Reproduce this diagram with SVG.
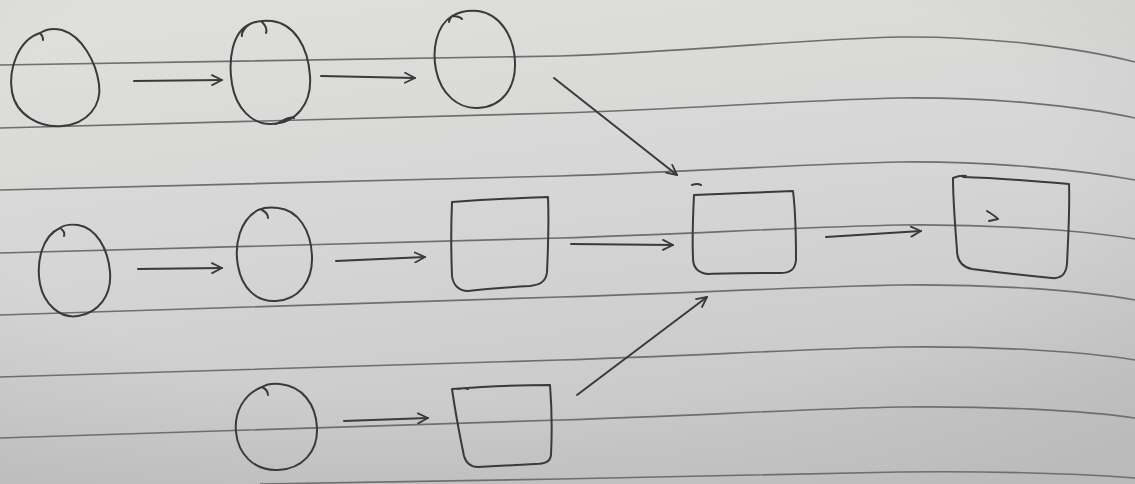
<svg xmlns="http://www.w3.org/2000/svg" width="1135" height="484" viewBox="0 0 1135 484">
  <defs>
    <linearGradient id="paper" x1="0" y1="0" x2="0.3" y2="1">
      <stop offset="0" stop-color="#e0e0de"/>
      <stop offset="0.55" stop-color="#d6d5d5"/>
      <stop offset="1" stop-color="#c9c8c8"/>
    </linearGradient>
    <radialGradient id="shade" cx="0.45" cy="0.35" r="0.8">
      <stop offset="0.6" stop-color="#000" stop-opacity="0"/>
      <stop offset="1" stop-color="#000" stop-opacity="0.07"/>
    </radialGradient>
    <marker id="head" viewBox="0 0 12 12" refX="11" refY="6" markerWidth="12" markerHeight="12" markerUnits="userSpaceOnUse" orient="auto">
      <path d="M1,1 L11,6 L1,11" fill="none" stroke="#3a3a3a" stroke-width="1.8" stroke-linecap="round" stroke-linejoin="round"/>
    </marker>
    <style>
      .rule { fill: none; stroke: #6e6e6e; stroke-width: 1.6; }
      .pen { fill: none; stroke: #3a3a3a; stroke-width: 2; stroke-linecap: round; stroke-linejoin: round; }
      .link { fill: none; stroke: #3a3a3a; stroke-width: 2; stroke-linecap: round; marker-end: url(#head); }
    </style>
  </defs>

  <!-- notebook page -->
  <rect width="1135" height="484" fill="url(#paper)"/>
  <rect width="1135" height="484" fill="url(#shade)"/>

  <!-- ruled lines, bending with the page towards the right edge -->
  <g id="rules">
    <path class="rule" d="M0,65 C190,62 380,59 560,56 C690,52 800,39 900,37 C990,36 1080,48 1135,62"/>
    <path class="rule" d="M0,128 C190,123 380,118 560,113 C690,109 800,100 900,98 C990,97 1080,106 1135,118"/>
    <path class="rule" d="M0,190 C190,185 380,181 560,176 C690,172 800,164 900,162 C990,161 1080,170 1135,180"/>
    <path class="rule" d="M0,253 C190,248 380,243 560,238 C690,234 800,227 900,225 C990,224 1080,230 1135,239"/>
    <path class="rule" d="M0,315 C190,309 380,303 560,297 C690,293 800,287 900,285 C990,284 1080,290 1135,300"/>
    <path class="rule" d="M0,377 C190,371 380,366 560,360 C690,356 800,349 900,347 C990,346 1080,351 1135,360"/>
    <path class="rule" d="M0,438 C190,432 380,426 560,420 C690,416 800,409 900,407 C990,406 1080,410 1135,418"/>
    <path class="rule" d="M260,484 C360,482 460,480 560,479 C690,477 800,473 900,472 C990,471 1080,474 1135,478"/>
  </g>

  <!-- connectors -->
  <g id="connectors">
    <path class="link" d="M134,81 L222,80"/>
    <path class="link" d="M321,76 L415,78"/>
    <path class="link" d="M554,78 L677,175"/>
    <path class="link" d="M138,269 L222,268"/>
    <path class="link" d="M336,261 L425,257"/>
    <path class="link" d="M571,244 L673,245"/>
    <path class="link" d="M826,237 L921,231"/>
    <path class="link" d="M344,421 L428,418"/>
    <path class="link" d="M577,395 L707,297"/>
  </g>

  <!-- row one -->
  <g id="node-a">
    <path class="pen" d="M40,33 C18,40 8,70 12,92 C16,115 40,128 62,126 C88,124 102,105 99,84 C96,62 82,36 62,30 C54,28 46,29 40,33 M40,33 C42,35 43,38 43,40"/>
  </g>
  <g id="node-b">
    <path class="pen" d="M250,24 C232,32 228,60 232,84 C236,108 252,125 272,124 C296,123 312,104 310,76 C308,46 294,24 272,21 C262,20 254,22 250,24 C244,28 241,34 242,36 M262,22 C266,26 267,30 266,33 M276,124 C284,120 290,116 294,118"/>
  </g>
  <g id="node-c">
    <path class="pen" d="M452,16 C436,26 432,50 436,70 C441,94 458,109 478,108 C502,107 516,88 515,62 C514,36 500,14 478,11 C468,10 459,12 452,16 C450,18 449,20 449,22 M452,16 C456,16 460,17 462,19"/>
  </g>

  <!-- row two -->
  <g id="node-d">
    <path class="pen" d="M60,228 C42,236 36,262 40,284 C44,304 60,319 78,316 C98,313 112,296 110,272 C108,248 96,228 78,225 C70,224 64,225 60,228 M60,228 C63,230 65,233 64,236"/>
  </g>
  <g id="node-e">
    <path class="pen" d="M258,210 C240,220 234,244 238,266 C242,288 256,302 276,301 C298,300 313,282 312,256 C311,230 298,210 278,208 C270,207 263,208 258,210 M262,210 C266,212 268,215 268,218"/>
  </g>
  <g id="node-f">
    <path class="pen" d="M452,202 C480,200 520,198 548,197 C549,220 548,250 547,272 C546,283 538,285 530,286 C510,287 488,289 468,291 C458,291 453,284 452,276 C451,250 451,225 452,202 Z"/>
  </g>
  <g id="node-g">
    <path class="pen" d="M694,195 C725,194 765,192 793,191 C796,215 796,240 796,260 C795,270 790,273 780,273 C760,273 730,273 708,274 C698,273 693,268 693,258 C692,235 693,215 694,195 Z M692,185 C695,184 699,184 701,185"/>
  </g>
  <g id="node-h">
    <path class="pen" d="M963,177 C995,178 1035,181 1069,184 C1070,210 1068,240 1067,264 C1066,275 1060,279 1052,278 C1030,276 995,272 972,269 C962,267 957,260 957,250 C955,225 953,200 953,178 C958,176 962,175 966,176 M987,211 C992,214 996,217 998,219 L989,221"/>
  </g>

  <!-- row three -->
  <g id="node-i">
    <path class="pen" d="M262,387 C244,394 234,412 236,432 C238,454 254,471 278,470 C302,469 318,452 317,428 C316,404 302,386 280,384 C272,383 267,384 262,387 M262,387 C266,389 268,392 268,395"/>
  </g>
  <g id="node-j">
    <path class="pen" d="M452,389 C480,387 520,385 550,385 C552,410 552,435 551,455 C550,462 545,464 535,464 C515,465 495,466 478,467 C470,467 466,463 464,456 C459,432 455,410 452,389 Z M458,389 C462,388 466,388 468,389"/>
  </g>
</svg>
